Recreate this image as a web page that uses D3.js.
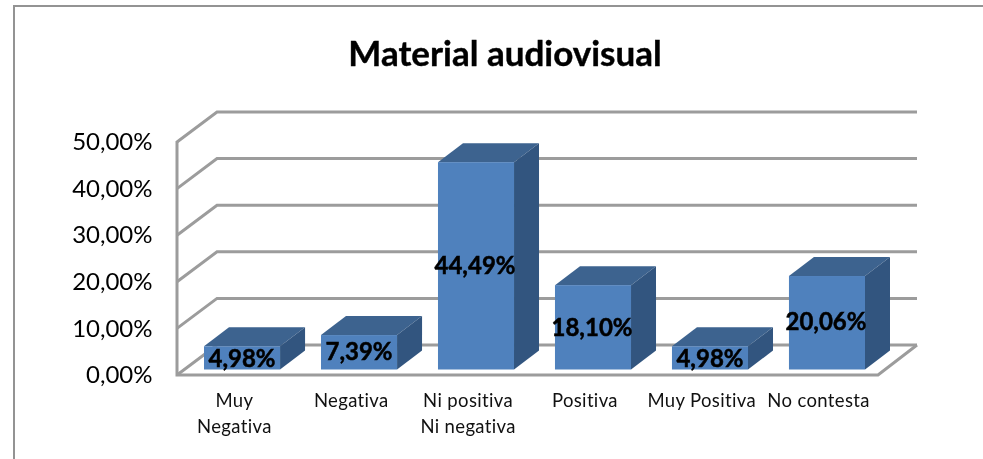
<!DOCTYPE html>
<html><head><meta charset="utf-8">
<script src="https://cdnjs.cloudflare.com/ajax/libs/d3/7.8.5/d3.min.js"></script>
<style>html,body{margin:0;padding:0;background:#fff}svg{display:block;filter:blur(.35px)}text{font-family:Lato,"Noto Sans",sans-serif}</style>
</head><body><div id="c"></div>
<script>
const categories = [["Muy","Negativa"],["Negativa"],["Ni positiva","Ni negativa"],["Positiva"],["Muy Positiva"],["No contesta"]];
const values = [4.98,7.39,44.49,18.10,4.98,20.06];
const valueLabels = ["4,98%","7,39%","44,49%","18,10%","4,98%","20,06%"];
const ticks = [0,10,20,30,40,50];
const tickLabels = ["0,00%","10,00%","20,00%","30,00%","40,00%","50,00%"];
const title = "Material audiovisual";

const W=983,H=459, fx0=177, fx1=878, fy0=375, fy1=142, dxW=40, dyW=30, dxB=25, dyB=19, barBase=369.5;
const svg=d3.select("#c").append("svg").attr("width",W).attr("height",H);
svg.append("path").attr("d",`M14,${H}V6H${W}`).attr("fill","none").attr("stroke","#939393").attr("stroke-width",2);
const y=d3.scaleLinear().domain([0,50]).range([fy0,fy1]);
const h=d3.scaleLinear().domain([0,50]).range([0,fy0-fy1]);
const x=d3.scaleBand().domain(d3.range(6)).range([204,865]).paddingInner(.35).paddingOuter(0);
const gridC="#9c9c9c";
const grid=svg.append("g").attr("fill","none").attr("stroke",gridC).attr("stroke-width",3);
grid.selectAll("path").data(ticks).join("path").attr("d",d=>`M${fx0},${y(d)}L${fx0+dxW},${y(d)-dyW}H${fx1+dxW-1}`);
grid.append("path").attr("d",`M${fx0},${y(50)-1}V${fy0}H${fx1}L${fx1+dxW-1},${fy0-dyW}`);

const bars=svg.append("g").selectAll("g").data(values).join("g");
bars.append("path").attr("fill","#3d638f").attr("d",(d,i)=>{const l=x(i),r=l+x.bandwidth(),t=barBase-h(d);
  return `M${l},${t}L${l+dxB},${t-dyB}H${r+dxB}L${r},${t}Z`});
bars.append("path").attr("fill","#32557f").attr("d",(d,i)=>{const r=x(i)+x.bandwidth(),t=barBase-h(d);
  return `M${r},${t}L${r+dxB},${t-dyB}V${barBase-dyB}L${r},${barBase}Z`});
bars.append("rect").attr("fill","#4f81bd").attr("x",(d,i)=>x(i)).attr("width",x.bandwidth()).attr("y",d=>barBase-h(d)).attr("height",d=>h(d));

const labelY=[358.5,352,266,328,358.5,322];
bars.append("text").attr("x",(d,i)=>x(i)+x.bandwidth()/2+(i==2||i==3||i==5?-1:0)).attr("y",(d,i)=>labelY[i]).attr("dy",".35em")
  .attr("text-anchor","middle").attr("font-weight",700).attr("font-size",24).attr("fill","#000").attr("stroke","#000").attr("stroke-width",.5).text((d,i)=>valueLabels[i]);

svg.append("g").selectAll("text").data(ticks).join("text").attr("x",152.5).attr("y",d=>y(d)+1).attr("dy",".3em")
  .attr("text-anchor","end").attr("font-size",24).attr("fill","#000").text((d,i)=>tickLabels[i]);

const cx=d3.scaleBand().domain(d3.range(6)).range([176,877]);
const catG=svg.append("g").selectAll("text").data(categories).join("text").attr("text-anchor","middle").attr("font-size",18.5).attr("letter-spacing",.35).attr("fill","#111");
catG.selectAll("tspan").data((d,i)=>d.map(t=>({t,i}))).join("tspan")
  .attr("x",d=>cx(d.i)+cx.bandwidth()/2).attr("y",(d,j)=>407+j*25.5).text(d=>d.t);
svg.append("text").attr("x",505).attr("y",66).attr("text-anchor","middle").attr("font-weight",700).attr("font-size",35).attr("fill","#000").attr("stroke","#000").attr("stroke-width",.4).text(title);
</script></body></html>
